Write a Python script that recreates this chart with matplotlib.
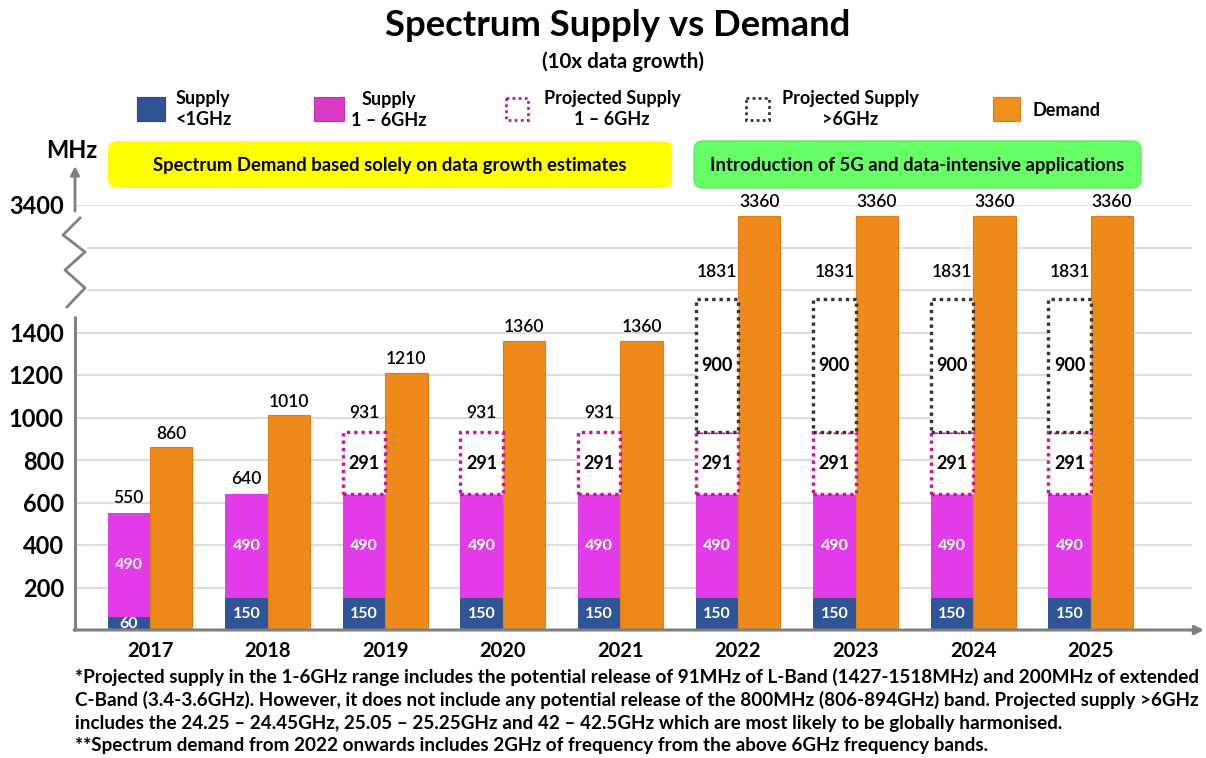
import numpy as np
import matplotlib
matplotlib.use('Agg')
import matplotlib.pyplot as plt
from matplotlib.patches import Rectangle, FancyBboxPatch
from matplotlib import font_manager

# ---------------- data ----------------
years = ['2017', '2018', '2019', '2020', '2021', '2022', '2023', '2024', '2025']
supply_lt1 = [60, 150, 150, 150, 150, 150, 150, 150, 150]
supply_1_6 = [490, 490, 490, 490, 490, 490, 490, 490, 490]
proj_1_6 = [0, 0, 291, 291, 291, 291, 291, 291, 291]
proj_gt6 = [0, 0, 0, 0, 0, 900, 900, 900, 900]
demand = [860, 1010, 1210, 1360, 1360, 3360, 3360, 3360, 3360]
ytick_vals = [200, 400, 600, 800, 1000, 1200, 1400, 3400]
ytick_labels = ['200', '400', '600', '800', '1000', '1200', '1400', '3400']

# broken-axis scale: value -> drawn position
scale_vals = [0, 1400, 1831, 3360, 3400]
scale_pos = [0, 1400, 1557, 1948, 2000]

def fwd(v):
    return np.interp(np.asarray(v, dtype=float), scale_vals, scale_pos)

def inv(p):
    return np.interp(np.asarray(p, dtype=float), scale_pos, scale_vals)

FONT = ['Lato', 'DejaVu Sans']
plt.rcParams['font.family'] = FONT

C_BLUE = '#2F5597'
C_MAG = '#E23CE8'
C_PMAG = '#CC1199'
C_PBLK = '#333333'
C_ORA = '#EE8A1A'
C_AXIS = '#808080'
C_GRID = '#D9D9D9'

W, H = 1206, 758
fig = plt.figure(figsize=(W / 100, H / 100), dpi=100)

# main axes in pixel layout
ax_l, ax_r, ax_b, ax_t = 75, 1195, 630, 205
ax = fig.add_axes([ax_l / W, (H - ax_b) / H, (ax_r - ax_l) / W, (ax_b - ax_t) / H])
ax.set_yscale('function', functions=(fwd, inv))
ax.set_ylim(0, 3400)
px_per_unit = 117.6
x0 = 150
ax.set_xlim((ax_l - x0) / px_per_unit, (ax_r - x0) / px_per_unit)
for s in ax.spines.values():
    s.set_visible(False)

# gridlines (drawn scale positions every 200)
grid_pos = np.arange(200, 2001, 200)
for gp in grid_pos:
    gv = float(inv(gp))
    xmin = (88 - ax_l) / (ax_r - ax_l) if 1400 < gp < 2000 else (78 - ax_l) / (ax_r - ax_l)
    ax.axhline(gv, xmin=xmin, xmax=0.996, color=C_GRID, lw=1.3, zorder=0)

x = np.arange(len(years))
w = 0.36
xs = x - w / 2
xd = x + w / 2

b1 = np.array(supply_lt1)
b2 = np.array(supply_1_6)
p1 = np.array(proj_1_6)
p2 = np.array(proj_gt6)
dem = np.array(demand)

ax.bar(xs, b1, w, color=C_BLUE, edgecolor='#27477F', lw=0.6, zorder=2)
ax.bar(xs, b2, w, bottom=b1, color=C_MAG, edgecolor='none', zorder=2)
m1 = p1 > 0
ax.bar(xs[m1], p1[m1], w, bottom=(b1 + b2)[m1], facecolor='white', edgecolor=C_PMAG,
       linestyle=(0, (1, 1.2)), lw=2.4, zorder=3)
m2 = p2 > 0
ax.bar(xs[m2], p2[m2], w, bottom=(b1 + b2 + p1)[m2], facecolor='white', edgecolor=C_PBLK,
       linestyle=(0, (1, 1.2)), lw=2.4, zorder=3)
ax.bar(xd, dem, w, color=C_ORA, edgecolor='#E07D12', lw=0.8, zorder=2)

def mid(lo, hi):
    return float(inv((fwd(lo) + fwd(hi)) / 2))

for i in range(len(years)):
    ax.text(xs[i], mid(0, b1[i]), str(b1[i]), ha='center', va='center', color='white',
            fontsize=11.5, fontweight='bold', zorder=5)
    ax.text(xs[i], mid(b1[i], b1[i] + b2[i]), str(b2[i]), ha='center', va='center',
            color='white', fontsize=11.5, fontweight='bold', zorder=5)
    top = b1[i] + b2[i]
    if p1[i] > 0:
        ax.text(xs[i], mid(top, top + p1[i]), str(p1[i]), ha='center', va='center',
                color='black', fontsize=13, fontweight='bold', zorder=5)
        top += p1[i]
        off = 8
    else:
        off = 5
    if p2[i] > 0:
        ax.text(xs[i], mid(top, top + p2[i]), str(p2[i]), ha='center', va='center',
                color='black', fontsize=13, fontweight='bold', zorder=5)
        top += p2[i]
        off = 14
    ax.annotate(str(top), (xs[i], top), xytext=(0, off), textcoords='offset points',
                ha='center', va='bottom', fontsize=12.5, fontweight='semibold', zorder=5)
    ax.annotate(str(dem[i]), (xd[i], dem[i]), xytext=(0, 4), textcoords='offset points',
                ha='center', va='bottom', fontsize=12.5, fontweight='semibold', zorder=5)

ax.set_yticks(ytick_vals)
ax.set_yticklabels(ytick_labels, fontsize=17, fontweight='bold')
ax.set_xticks(x)
ax.set_xticklabels(years, fontsize=14.5, fontweight='bold')
ax.tick_params(axis='both', length=0)
ax.tick_params(axis='y', pad=8)
ax.tick_params(axis='x', pad=8)
ax.patch.set_alpha(0)

# ---------------- overlay for decorations ----------------
ov = fig.add_axes([0, 0, 1, 1], zorder=5)
ov.set_xlim(0, W)
ov.set_ylim(H, 0)
ov.axis('off')

# axes lines
ov.plot([75, 75], [631, 316], color=C_AXIS, lw=2.2, solid_capstyle='butt')
ov.plot([67, 85, 65, 85, 63, 80], [307, 288, 270, 252, 235, 218], color=C_AXIS, lw=2)
ov.annotate('', xy=(75, 166), xytext=(75, 211),
            arrowprops=dict(arrowstyle='-|>', color=C_AXIS, lw=2, mutation_scale=13,
                            shrinkA=0, shrinkB=0))
ov.annotate('', xy=(1204, 630), xytext=(74, 630),
            arrowprops=dict(arrowstyle='-|>', color=C_AXIS, lw=2.2, mutation_scale=13,
                            shrinkA=0, shrinkB=0))

# title
ov.text(618, 26, 'Spectrum Supply vs Demand', ha='center', va='center', fontsize=26.3,
        fontweight='bold')
ov.text(623, 62, '(10x data growth)', ha='center', va='center', fontsize=14.8,
        fontweight='bold')

# legend
LF = 13
ov.add_patch(Rectangle((137, 97), 28, 24, fc=C_BLUE, ec='#27477F', lw=0.8))
ov.text(176, 109, 'Supply\n<1GHz', ha='left', va='center', fontsize=LF, fontweight='bold',
        linespacing=1.35)
ov.add_patch(Rectangle((314, 97), 30, 24, fc='#D83AC4', ec='#C030B0', lw=0.8))
ov.text(389, 110, 'Supply\n1 \u2013 6GHz', ha='center', va='center', fontsize=LF,
        fontweight='bold', linespacing=1.35, multialignment='center')
ov.add_patch(Rectangle((506, 98), 22, 22, fill=False, ec=C_PMAG, lw=2,
                       linestyle=(0, (1, 1.2))))
ov.text(612, 109, 'Projected Supply\n1 \u2013 6GHz', ha='center', va='center', fontsize=LF,
        fontweight='bold', linespacing=1.35, multialignment='center')
ov.add_patch(Rectangle((746, 98), 23, 22, fill=False, ec=C_PBLK, lw=2,
                       linestyle=(0, (1, 1.2))))
ov.text(850, 109, 'Projected Supply\n>6GHz', ha='center', va='center', fontsize=LF,
        fontweight='bold', linespacing=1.35, multialignment='center')
ov.add_patch(Rectangle((993, 97), 27, 24, fc='#F0901A', ec='#E07D12', lw=0.8))
ov.text(1032, 110, 'Demand', ha='left', va='center', fontsize=LF, fontweight='bold')

# highlight boxes
ov.add_patch(FancyBboxPatch((108, 141), 564, 47, boxstyle='round,pad=0,rounding_size=9',
                            fc='#FFFF00', ec='none'))
ov.text(390, 165, 'Spectrum Demand based solely on data growth estimates', ha='center',
        va='center', fontsize=13.3, fontweight='bold')
ov.add_patch(FancyBboxPatch((694, 141), 447, 47, boxstyle='round,pad=0,rounding_size=9',
                            fc='#66FF66', ec='#5CEB5C', lw=1))
ov.text(917, 165, 'Introduction of 5G and data-intensive applications', ha='center',
        va='center', fontsize=13.3, fontweight='bold')

ov.text(72, 151, 'MHz', ha='center', va='center', fontsize=17, fontweight='bold')

# footnotes
names = {f.name for f in font_manager.fontManager.ttflist}
foot_family = ['Liberation Sans Narrow', 'DejaVu Sans'] if 'Liberation Sans Narrow' in names else FONT
notes = [
    '*Projected supply in the 1-6GHz range includes the potential release of 91MHz of L-Band (1427-1518MHz) and 200MHz of extended',
    'C-Band (3.4-3.6GHz). However, it does not include any potential release of the 800MHz (806-894GHz) band. Projected supply >6GHz',
    'includes the 24.25 \u2013 24.45GHz, 25.05 \u2013 25.25GHz and 42 \u2013 42.5GHz which are most likely to be globally harmonised.',
    '**Spectrum demand from 2022 onwards includes 2GHz of frequency from the above 6GHz frequency bands.',
]
note_y = [677, 700, 723, 746]
texts = []
for t, yy in zip(notes, note_y):
    texts.append(ov.text(75, yy, t, ha='left', va='center', fontsize=12, fontweight='bold',
                         family=foot_family))
fig.canvas.draw()
r = fig.canvas.get_renderer()
wpx = texts[0].get_window_extent(r).width
scale = 1115.0 / wpx
for t in texts:
    t.set_fontsize(12 * scale)

fig.savefig('out.png', dpi=100)
